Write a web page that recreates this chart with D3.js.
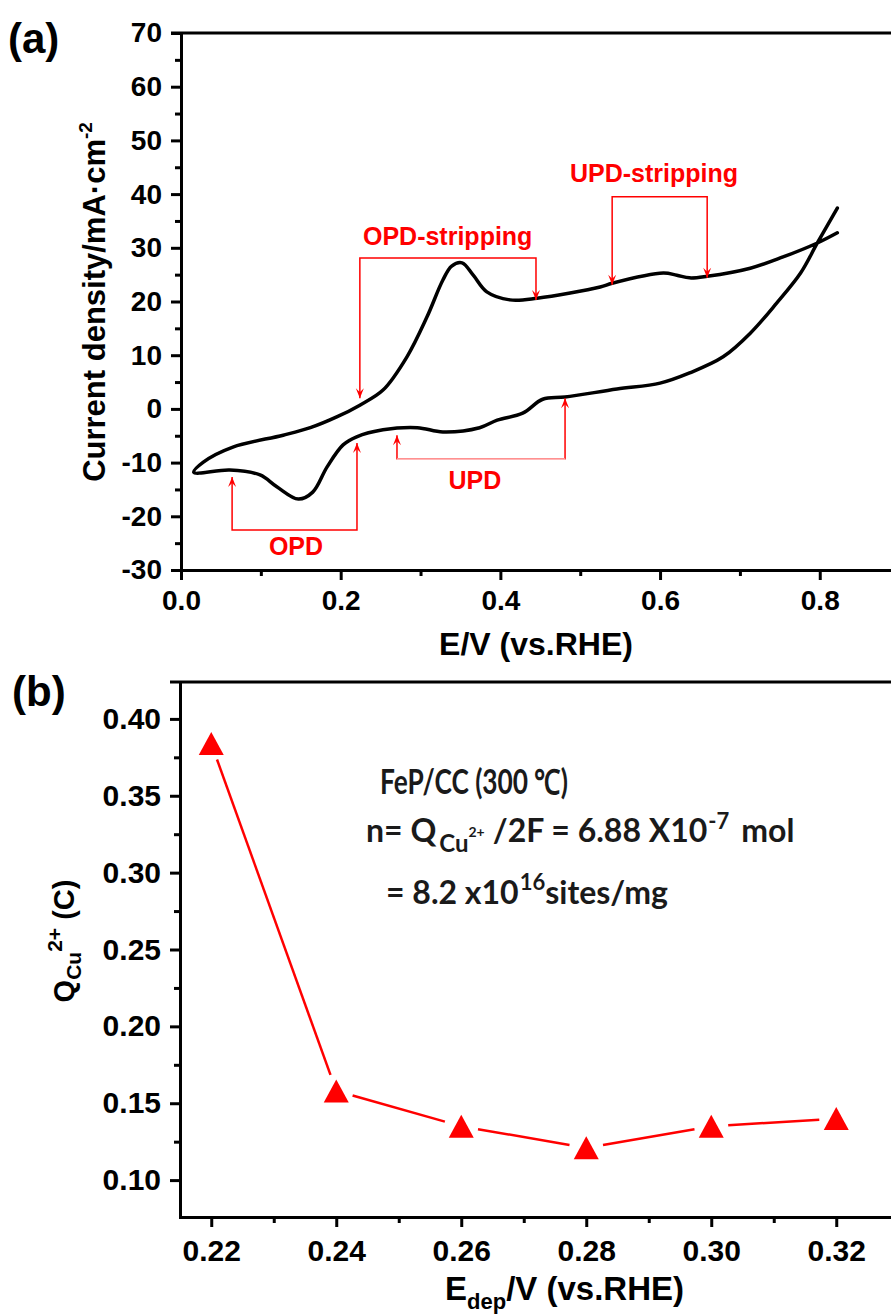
<!DOCTYPE html>
<html>
<head>
<meta charset="utf-8">
<script src="https://cdn.jsdelivr.net/npm/d3@7"></script>
<style>
body { margin: 0; background: #fff; }
svg { display: block; }
</style>
</head>
<body>
<svg id="fig" width="891" height="1314"></svg>
<script>
// (a) CV curve, read along the path: right end of the upper branch -> left vertex -> lower branch
var cv_E = [0.822, 0.797, 0.754, 0.713, 0.659, 0.637, 0.621, 0.604, 0.540, 0.525, 0.446, 0.412,
            0.383, 0.366, 0.352, 0.339, 0.328, 0.308, 0.283, 0.253, 0.224, 0.195, 0.162, 0.128,
            0.065, 0.028, 0.016,
            0.061, 0.099, 0.120, 0.147, 0.165, 0.183, 0.203, 0.220, 0.253, 0.296, 0.328, 0.374,
            0.396, 0.428, 0.453, 0.481, 0.546, 0.600, 0.637, 0.679, 0.713, 0.746, 0.776, 0.797, 0.822];
var cv_j = [32.8, 30.9, 28.3, 26.2, 24.7, 24.4, 24.9, 25.3, 23.4, 22.7, 20.6, 20.3,
            21.8, 24.9, 27.2, 26.6, 24.0, 17.1, 9.7, 3.5, 0.7, -1.5, -3.5, -4.9,
            -7.1, -9.9, -11.8,
            -11.4, -12.3, -14.5, -16.8, -15.5, -10.8, -6.7, -5.2, -3.9, -3.5, -4.3, -3.5,
            -2.1, -0.8, 1.8, 2.2, 3.7, 4.8, 6.7, 9.7, 14.1, 19.7, 25.3, 30.9, 37.4];

var a_xticks = [0.0, 0.2, 0.4, 0.6, 0.8];
var a_xminor = [0.1, 0.3, 0.5, 0.7];
var a_yticks = [-30, -20, -10, 0, 10, 20, 30, 40, 50, 60, 70];
var a_yminor = [-25, -15, -5, 5, 15, 25, 35, 45, 55, 65];

// bracket annotations: label, left E, right E, bar j, left tip j, right tip j, label E, label j
var ann_label = ['OPD-stripping', 'UPD-stripping', 'OPD', 'UPD'];
var ann_x1 = [0.224, 0.540, 0.064, 0.2705];
var ann_x2 = [0.4446, 0.659, 0.2204, 0.481];
var ann_bar = [28.1, 39.5, -22.55, -9.3];
var ann_tip1 = [2.0, 23.1, -12.7, -4.9];
var ann_tip2 = [20.3, 24.4, -6.35, 2.0];
var ann_tx = [0.334, 0.5924, 0.144, 0.368];
var ann_ty = [30.5, 42.2, -27.2, -14.9];

// (b) Cu charge vs deposition potential
var b_E = [0.22, 0.24, 0.26, 0.28, 0.30, 0.32];
var b_Q = [0.384, 0.158, 0.135, 0.121, 0.135, 0.140];
var b_xticks = [0.22, 0.24, 0.26, 0.28, 0.30, 0.32];
var b_xminor = [0.23, 0.25, 0.27, 0.29, 0.31];
var b_yticks = [0.10, 0.15, 0.20, 0.25, 0.30, 0.35, 0.40];
var b_yminor = [0.125, 0.175, 0.225, 0.275, 0.325, 0.375];

var svg = d3.select('#fig');
var arial = '"Liberation Sans", Arial, sans-serif';
var red = '#ff0000';

var ax = d3.scaleLinear().domain([0, 0.9]).range([181, 899.6]);
var ay = d3.scaleLinear().domain([-30, 70]).range([570, 33]);
var bx = d3.scaleLinear().domain([0.215, 0.33]).range([180, 898.75]);
var by = d3.scaleLinear().domain([0.076, 0.424]).range([1217, 682]);

function drawFrame(x, y, xt, xm, yt, ym, xfmt, yfmt, xfont, yfont, xpad, ypad) {
    var g = svg.append('g');
    var y0 = y.range()[0];
    var x0 = x.range()[0];

    g.append('g').attr('transform', 'translate(0,' + y0 + ')')
     .call(d3.axisBottom(x).tickValues(xm).tickSize(6).tickSizeOuter(0).tickFormat(''));
    g.append('g').attr('transform', 'translate(0,' + y0 + ')')
     .call(d3.axisBottom(x).tickValues(xt).tickSize(10).tickSizeOuter(0).tickPadding(xpad).tickFormat(xfmt))
     .selectAll('text').style('font-size', xfont + 'px');
    g.append('g').attr('transform', 'translate(' + x0 + ',0)')
     .call(d3.axisLeft(y).tickValues(ym).tickSize(6).tickSizeOuter(0).tickFormat(''));
    g.append('g').attr('transform', 'translate(' + x0 + ',0)')
     .call(d3.axisLeft(y).tickValues(yt).tickSize(10).tickSizeOuter(0).tickPadding(ypad).tickFormat(yfmt))
     .selectAll('text').style('font-size', yfont + 'px');

    g.append('line')
     .attr('x1', x0 - 10).attr('x2', x.range()[1])
     .attr('y1', y.range()[1]).attr('y2', y.range()[1])
     .attr('stroke', '#000').attr('stroke-width', 3);

    g.selectAll('.domain').attr('stroke', '#000').attr('stroke-width', 3).attr('stroke-linecap', 'square');
    g.selectAll('.tick line').attr('stroke', '#000').attr('stroke-width', 3);
    g.selectAll('.tick text').attr('fill', '#000')
     .style('font-family', arial).style('font-weight', 'bold');
    return g;
}

// ---------- panel (a) ----------
drawFrame(ax, ay, a_xticks, a_xminor, a_yticks, a_yminor,
          d3.format('.1f'), function(d){ return String(d); }, 28, 28, 10, 9);

var cvLine = d3.line()
    .x(function(d){ return ax(d[0]); })
    .y(function(d){ return ay(d[1]); })
    .curve(d3.curveCatmullRom.alpha(0.5));

svg.append('path')
   .datum(d3.zip(cv_E, cv_j))
   .attr('d', cvLine)
   .attr('fill', 'none')
   .attr('stroke', '#000')
   .attr('stroke-width', 3.5)
   .attr('stroke-linejoin', 'round')
   .attr('stroke-linecap', 'round');

function arrowHead(px, py, dir) {
    // dir = 1 points down, -1 points up
    return 'M' + px + ',' + py +
           'L' + (px - 4) + ',' + (py - dir * 10) +
           'L' + px + ',' + (py - dir * 6) +
           'L' + (px + 4) + ',' + (py - dir * 10) + 'Z';
}

ann_label.forEach(function(lab, i){
    var xa = ax(ann_x1[i]), xb = ax(ann_x2[i]), yb = ay(ann_bar[i]);
    var t1 = ay(ann_tip1[i]), t2 = ay(ann_tip2[i]);
    var dir1 = t1 > yb ? 1 : -1;
    var dir2 = t2 > yb ? 1 : -1;
    var g = svg.append('g');
    g.append('path')
     .attr('d', 'M' + xa + ',' + t1 + 'V' + yb + 'H' + xb + 'V' + t2)
     .attr('fill', 'none')
     .attr('stroke', red)
     .attr('stroke-width', 1.5);
    if (lab === 'UPD') {
        g.append('line')
         .attr('x1', xa).attr('x2', xb).attr('y1', yb).attr('y2', yb)
         .attr('stroke', '#fff').attr('stroke-width', 1.6);
        g.append('line')
         .attr('x1', xa).attr('x2', xb).attr('y1', yb).attr('y2', yb)
         .attr('stroke', '#ff9090').attr('stroke-width', 1.5);
    }
    g.append('path').attr('d', arrowHead(xa, t1, dir1)).attr('fill', red);
    g.append('path').attr('d', arrowHead(xb, t2, dir2)).attr('fill', red);
    g.append('text')
     .attr('x', ax(ann_tx[i]))
     .attr('y', ay(ann_ty[i]))
     .attr('text-anchor', 'middle')
     .attr('fill', red)
     .style('font-family', arial)
     .style('font-weight', 'bold')
     .style('font-size', '25px')
     .text(lab);
});

svg.append('text')
   .attr('x', 105).attr('y', 302)
   .attr('transform', 'rotate(-90,105,302)')
   .attr('text-anchor', 'middle')
   .style('font-family', arial).style('font-weight', 'bold').style('font-size', '31px')
   .text('Current density/mA\u00b7cm')
   .append('tspan').attr('dy', -13).style('font-size', '19px').text('-2');

svg.append('text')
   .attr('x', 536).attr('y', 655)
   .attr('text-anchor', 'middle')
   .style('font-family', arial).style('font-weight', 'bold').style('font-size', '32px')
   .text('E/V (vs.RHE)');

svg.append('text')
   .attr('x', 8).attr('y', 53)
   .style('font-family', arial).style('font-weight', 'bold').style('font-size', '42px')
   .text('(a)');

// ---------- panel (b) ----------
drawFrame(bx, by, b_xticks, b_xminor, b_yticks, b_yminor,
          d3.format('.2f'), d3.format('.2f'), 30, 30, 13, 9);

var pts = d3.zip(b_E, b_Q).map(function(d){ return [bx(d[0]), by(d[1])]; });
var gap = 17;
var segs = d3.pairs(pts).map(function(p){
    var dx = p[1][0] - p[0][0], dy = p[1][1] - p[0][1];
    var len = Math.sqrt(dx * dx + dy * dy);
    var ux = dx / len, uy = dy / len;
    return [p[0][0] + ux * gap, p[0][1] + uy * gap, p[1][0] - ux * gap, p[1][1] - uy * gap];
});

svg.selectAll('line.qseg')
   .data(segs)
   .enter()
   .append('line')
   .attr('class', 'qseg')
   .attr('x1', function(d){ return d[0]; })
   .attr('y1', function(d){ return d[1]; })
   .attr('x2', function(d){ return d[2]; })
   .attr('y2', function(d){ return d[3]; })
   .attr('stroke', red)
   .attr('stroke-width', 2.5);

svg.selectAll('path.tri')
   .data(pts)
   .enter()
   .append('path')
   .attr('class', 'tri')
   .attr('d', function(d){
       return 'M' + d[0] + ',' + (d[1] - 11.5) +
              'L' + (d[0] + 12.5) + ',' + (d[1] + 11.5) +
              'L' + (d[0] - 12.5) + ',' + (d[1] + 11.5) + 'Z';
   })
   .attr('fill', red);

var calib = 'Lato, "Open Sans", sans-serif';

svg.append('text')
   .attr('x', 380).attr('y', 794)
   .attr('textLength', 188).attr('lengthAdjust', 'spacingAndGlyphs')
   .attr('fill', '#1a1a1a')
   .style('font-family', calib).style('font-weight', 'bold').style('font-size', '34px')
   .text('FeP/CC (300 \u2103)');

var l2 = svg.append('text')
   .attr('x', 366).attr('y', 842)
   .attr('fill', '#1a1a1a')
   .style('font-family', calib).style('font-weight', 'bold').style('font-size', '32px');
l2.append('tspan').text('n= Q');
l2.append('tspan').attr('dx', 3).attr('dy', 10).style('font-size', '24px').text('Cu');
l2.append('tspan').attr('dy', -15).style('font-size', '14px').text('2+');
l2.append('tspan').attr('dx', 8).attr('dy', 5).text('/2F = 6.88 X10');
l2.append('tspan').attr('dx', 1).attr('dy', -13).style('font-size', '22px').text('-7');
l2.append('tspan').attr('dx', 12).attr('dy', 13).text('mol');

var l3 = svg.append('text')
   .attr('x', 386).attr('y', 904)
   .attr('fill', '#1a1a1a')
   .style('font-family', calib).style('font-weight', 'bold').style('font-size', '32px');
l3.append('tspan').text('= 8.2 x10');
l3.append('tspan').attr('dx', 1).attr('dy', -14).style('font-size', '22px').text('16');
l3.append('tspan').attr('dy', 14).text('sites/mg');

var ql = svg.append('text')
   .attr('x', 74).attr('y', 941)
   .attr('transform', 'rotate(-90,74,941)')
   .attr('text-anchor', 'middle')
   .style('font-family', arial).style('font-weight', 'bold').style('font-size', '29px');
ql.append('tspan').text('Q');
ql.append('tspan').attr('dy', 7).style('font-size', '21px').text('Cu');
ql.append('tspan').attr('dy', -19).style('font-size', '21px').text('2+');
ql.append('tspan').attr('dy', 12).text(' (C)');

var el = svg.append('text')
   .attr('x', 445).attr('y', 1300)
   .style('font-family', arial).style('font-weight', 'bold').style('font-size', '33px');
el.append('tspan').text('E');
el.append('tspan').attr('dy', 9).style('font-size', '22px').text('dep');
el.append('tspan').attr('dy', -9).text('/V (vs.RHE)');

svg.append('text')
   .attr('x', 12).attr('y', 706)
   .style('font-family', arial).style('font-weight', 'bold').style('font-size', '42px')
   .text('(b)');
</script>
</body>
</html>
